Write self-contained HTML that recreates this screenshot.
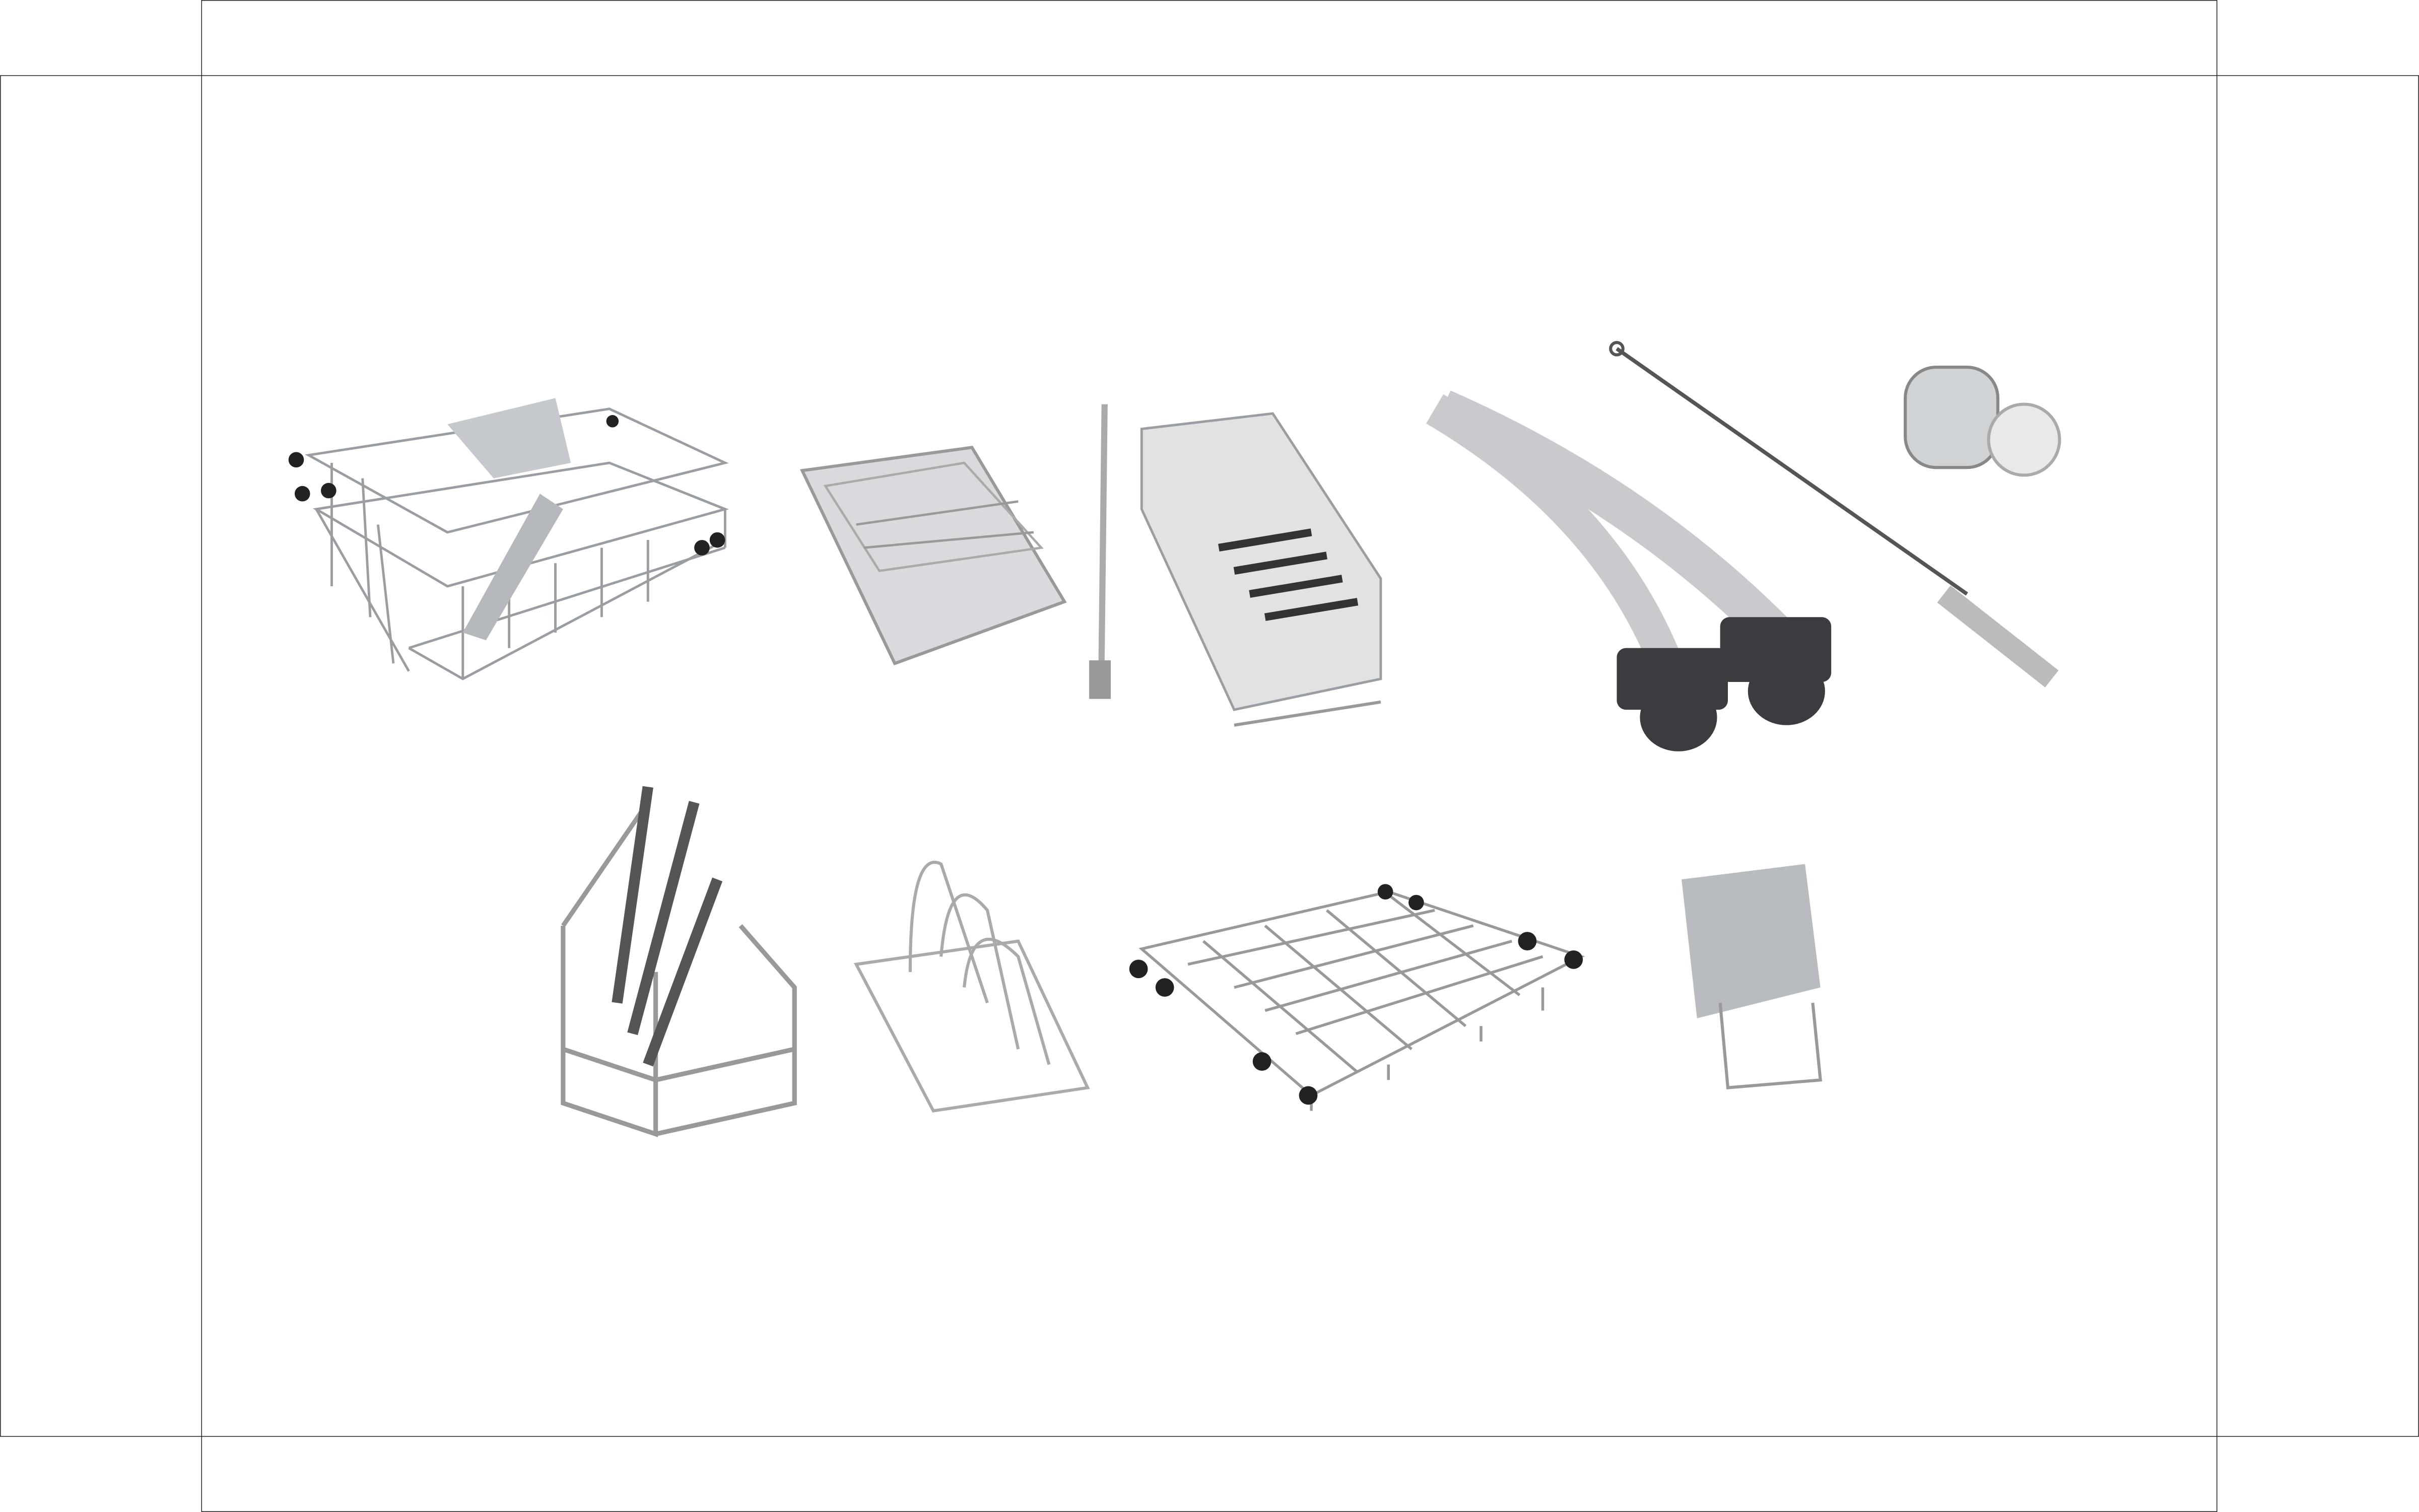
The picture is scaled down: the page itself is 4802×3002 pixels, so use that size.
<!DOCTYPE html>
<html><head><meta charset="utf-8"><style>
html,body{margin:0;padding:0;background:#fff;}
svg{display:block;}
</style></head><body>
<svg width="4802" height="3002" viewBox="0 0 1568 980" preserveAspectRatio="none" xmlns="http://www.w3.org/2000/svg">
<g stroke="#222" stroke-width="0.5" fill="none">
<line x1="0" y1="49" x2="1568" y2="49"/>
<line x1="0" y1="931" x2="1568" y2="931"/>
<line x1="130.7" y1="0" x2="130.7" y2="980"/>
<line x1="1437" y1="0" x2="1437" y2="980"/>
<line x1="130.7" y1="0.3" x2="1437" y2="0.3"/>
<line x1="130.7" y1="979.7" x2="1437" y2="979.7"/>
<line x1="0.3" y1="49" x2="0.3" y2="931"/>
<line x1="1567.7" y1="49" x2="1567.7" y2="931"/>
</g>
<!-- basket 1 -->
<g stroke="#9a9ea3" stroke-width="1.6" fill="none">
<path d="M200 295 L395 265 L470 300 L290 345 Z"/>
<path d="M205 330 L395 300 L470 330 L290 380 Z"/>
<path d="M265 420 L470 355 M205 330 L265 435 M470 330 L470 355"/>
<path d="M215 300 L215 380 M235 310 L240 400 M245 340 L255 430 M300 380 L300 440 M330 370 L330 420 M360 365 L360 410 M390 355 L390 400 M420 350 L420 390"/>
<path d="M265 420 L300 440 L470 350"/>
</g>
<path d="M290 275 L360 258 L370 300 L320 310 Z" fill="#c5c8cc"/>
<path d="M300 410 L350 320 L365 330 L315 415 Z" fill="#b5b9be"/>
<g fill="#222"><circle cx="192" cy="298" r="5"/><circle cx="196" cy="320" r="5"/><circle cx="213" cy="318" r="5"/><circle cx="455" cy="355" r="5"/><circle cx="465" cy="350" r="5"/><circle cx="397" cy="273" r="4"/></g>
<!-- tray basket -->
<path d="M520 305 L630 290 L690 390 L580 430 Z" fill="#d8dadd" stroke="#999" stroke-width="2"/>
<path d="M535 315 L625 300 L675 355 L570 370 Z" fill="none" stroke="#aaa" stroke-width="1.5"/>
<path d="M555 340 L660 325 M560 355 L670 345" stroke="#999" stroke-width="1.5"/>
<!-- rod -->
<path d="M714 262 L718 262 L716 430 L712 430 Z" fill="#aaa"/>
<rect x="706" y="428" width="14" height="25" fill="#999"/>
<!-- tall basket -->
<path d="M740 278 L825 268 L895 375 L895 440 L800 460 L740 330 Z" fill="#e0e2e4" stroke="#9a9ea3" stroke-width="1.6"/>
<g stroke="#333" stroke-width="5"><line x1="790" y1="355" x2="850" y2="345"/><line x1="800" y1="370" x2="860" y2="360"/><line x1="810" y1="385" x2="870" y2="375"/><line x1="820" y1="400" x2="880" y2="390"/></g>
<path d="M800 470 L895 455" stroke="#999" stroke-width="2"/>
<!-- hose -->
<path d="M935 265 Q1060 320 1150 410" stroke="#c8cacd" stroke-width="26" fill="none"/>
<path d="M930 265 Q1040 330 1080 430" stroke="#c8cacd" stroke-width="22" fill="none"/>
<g fill="#3a3c40"><rect x="1048" y="420" width="72" height="40" rx="6"/><rect x="1115" y="400" width="72" height="42" rx="6"/>
<ellipse cx="1088" cy="465" rx="25" ry="22"/><ellipse cx="1158" cy="448" rx="25" ry="22"/></g>
<!-- brush -->
<line x1="1048" y1="226" x2="1275" y2="385" stroke="#555" stroke-width="2.5"/>
<path d="M1260 385 L1330 440" stroke="#bbb" stroke-width="14"/>
<circle cx="1048" cy="226" r="4" fill="none" stroke="#555" stroke-width="2"/>
<!-- strainer -->
<rect x="1235" y="238" width="60" height="65" rx="20" fill="#d0d3d6" stroke="#888" stroke-width="2"/>
<circle cx="1312" cy="285" r="23" fill="#e8e9eb" stroke="#aaa" stroke-width="2"/>
<!-- pliers rack -->
<g stroke="#999" stroke-width="3" fill="none">
<path d="M365 600 L420 520 M365 600 L365 715 L425 735 L425 630 M425 735 L515 715 L515 640 L480 600 M365 680 L425 700 L515 680"/>
</g>
<g stroke="#555" stroke-width="7"><line x1="400" y1="650" x2="420" y2="510"/><line x1="410" y1="670" x2="450" y2="520"/><line x1="420" y1="690" x2="465" y2="570"/></g>
<!-- plate rack -->
<g stroke="#aaa" stroke-width="2" fill="none">
<path d="M555 625 L660 610 L705 705 L605 720 Z"/>
<path d="M590 630 Q590 550 610 560 L640 650 M610 620 Q615 560 640 590 L660 680 M625 640 Q630 590 660 620 L680 690"/>
</g>
<!-- wheel rack -->
<g stroke="#999" stroke-width="1.8" fill="none">
<path d="M740 615 L900 578 L1025 620 L850 710 Z"/>
<path d="M770 625 L930 590 M800 640 L955 600 M820 655 L980 610 M840 670 L1000 620 M780 610 L880 695 M820 600 L915 680 M860 590 L950 665 M900 580 L985 645"/>
<path d="M850 710 L850 720 M900 690 L900 700 M960 665 L960 675 M1000 640 L1000 655"/>
</g>
<g fill="#222"><circle cx="738" cy="628" r="6"/><circle cx="755" cy="640" r="6"/><circle cx="818" cy="688" r="6"/><circle cx="848" cy="710" r="6"/><circle cx="990" cy="610" r="6"/><circle cx="1020" cy="622" r="6"/><circle cx="898" cy="578" r="5"/><circle cx="918" cy="585" r="5"/></g>
<!-- holder -->
<path d="M1090 570 L1170 560 L1180 640 L1100 660 Z" fill="#b8bcc0"/>
<path d="M1115 650 L1120 705 L1180 700 L1175 650" stroke="#999" stroke-width="2" fill="none"/>
</svg>
</body></html>
